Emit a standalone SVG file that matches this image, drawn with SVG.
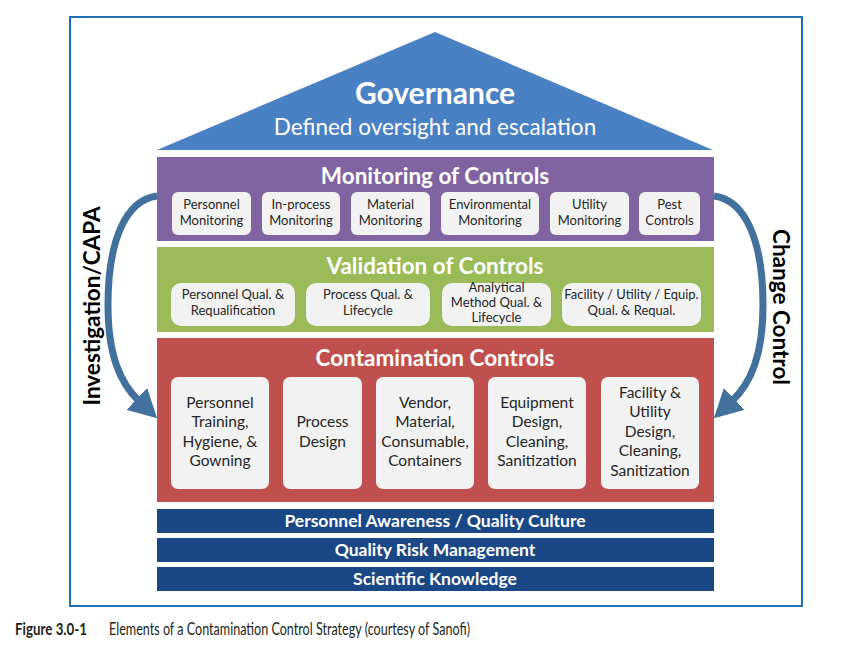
<svg xmlns="http://www.w3.org/2000/svg" width="852" height="646" viewBox="0 0 852 646">
<style>
.t{font-family:Lato,"Open Sans","Liberation Sans",sans-serif;text-anchor:middle}
.hw{fill:#fff;font-weight:bold}
.box{fill:#f2f2f2}
.bt{fill:#262626;font-size:13px}
.ct{fill:#262626;font-size:15.5px}
.bar{fill:#1a4785}
.bartxt{font-size:17.5px}
.side{fill:#000;font-weight:bold;font-size:22.5px}
.arr{fill:none;stroke:#41719c;stroke-width:7}
</style>
<defs>
<marker id="ah" markerUnits="userSpaceOnUse" markerWidth="28" markerHeight="30" viewBox="0 0 28 30" refX="3" refY="15" orient="auto">
<path d="M0,0 L28,15 L0,30 Z" fill="#41719c"/>
</marker>
</defs>
<rect width="852" height="646" fill="#fff"/>
<rect x="70" y="17" width="732" height="589" fill="none" stroke="#1f6fb2" stroke-width="2"/>

<g id="governance">
<polygon points="435,32 713,150 157,150" fill="#4a80c4"/>
<text class="t hw" x="435" y="104" font-size="30">Governance</text>
<text class="t" x="435" y="135" font-size="22.5" fill="#fff">Defined oversight and escalation</text>
</g>

<g id="monitoring">
<rect x="157" y="157" width="557" height="84" fill="#8064a2"/>
<text class="t hw" x="435" y="184" font-size="22.5">Monitoring of Controls</text>
<rect class="box" x="172" y="192" width="79" height="43" rx="6"/>
<text class="t bt" x="211.5" y="209">Personnel</text><text class="t bt" x="211.5" y="225">Monitoring</text>
<rect class="box" x="262" y="192" width="78" height="43" rx="6"/>
<text class="t bt" x="301" y="209">In-process</text><text class="t bt" x="301" y="225">Monitoring</text>
<rect class="box" x="351" y="192" width="79" height="43" rx="6"/>
<text class="t bt" x="390.5" y="209">Material</text><text class="t bt" x="390.5" y="225">Monitoring</text>
<rect class="box" x="441" y="192" width="98" height="43" rx="6"/>
<text class="t bt" x="490" y="209">Environmental</text><text class="t bt" x="490" y="225">Monitoring</text>
<rect class="box" x="550" y="192" width="79" height="43" rx="6"/>
<text class="t bt" x="589.5" y="209">Utility</text><text class="t bt" x="589.5" y="225">Monitoring</text>
<rect class="box" x="639" y="192" width="61" height="43" rx="6"/>
<text class="t bt" x="669.5" y="209">Pest</text><text class="t bt" x="669.5" y="225">Controls</text>
</g>

<g id="validation">
<rect x="157" y="247" width="557" height="85" fill="#9bbb59"/>
<text class="t hw" x="435" y="274" font-size="22.5">Validation of Controls</text>
<rect class="box" x="171" y="283" width="124" height="43" rx="10"/>
<text class="t bt" x="233" y="299">Personnel Qual. &amp;</text><text class="t bt" x="233" y="315">Requalification</text>
<rect class="box" x="306" y="283" width="124" height="43" rx="10"/>
<text class="t bt" x="368" y="299">Process Qual. &amp;</text><text class="t bt" x="368" y="315">Lifecycle</text>
<rect class="box" x="442" y="283" width="109" height="43" rx="10"/>
<text class="t bt" x="496.5" y="292">Analytical</text><text class="t bt" x="496.5" y="307">Method Qual. &amp;</text><text class="t bt" x="496.5" y="322">Lifecycle</text>
<rect class="box" x="562" y="283" width="139" height="43" rx="10"/>
<text class="t bt" x="631.5" y="299">Facility / Utility / Equip.</text><text class="t bt" x="631.5" y="315">Qual. &amp; Requal.</text>
</g>

<g id="contamination">
<rect x="157" y="338" width="557" height="164" fill="#c0504d"/>
<text class="t hw" x="435" y="366" font-size="22.5">Contamination Controls</text>
<rect class="box" x="171" y="377" width="98" height="112" rx="7"/>
<text class="t ct" x="220" y="408">Personnel</text><text class="t ct" x="220" y="427">Training,</text><text class="t ct" x="220" y="447">Hygiene, &amp;</text><text class="t ct" x="220" y="466">Gowning</text>
<rect class="box" x="283" y="377" width="79" height="112" rx="7"/>
<text class="t ct" x="322.5" y="427">Process</text><text class="t ct" x="322.5" y="447">Design</text>
<rect class="box" x="376" y="377" width="98" height="112" rx="7"/>
<text class="t ct" x="425" y="408">Vendor,</text><text class="t ct" x="425" y="427">Material,</text><text class="t ct" x="425" y="447">Consumable,</text><text class="t ct" x="425" y="466">Containers</text>
<rect class="box" x="488" y="377" width="98" height="112" rx="7"/>
<text class="t ct" x="537" y="408">Equipment</text><text class="t ct" x="537" y="427">Design,</text><text class="t ct" x="537" y="447">Cleaning,</text><text class="t ct" x="537" y="466">Sanitization</text>
<rect class="box" x="601" y="377" width="98" height="112" rx="7"/>
<text class="t ct" x="650" y="398">Facility &amp;</text><text class="t ct" x="650" y="417">Utility</text><text class="t ct" x="650" y="437">Design,</text><text class="t ct" x="650" y="456">Cleaning,</text><text class="t ct" x="650" y="476">Sanitization</text>
</g>

<g id="culture">
<rect class="bar" x="157" y="509" width="557" height="24"/>
<text class="t hw bartxt" x="435" y="527">Personnel Awareness / Quality Culture</text>
</g>
<g id="qrm">
<rect class="bar" x="157" y="538" width="557" height="24"/>
<text class="t hw bartxt" x="435" y="556">Quality Risk Management</text>
</g>
<g id="knowledge">
<rect class="bar" x="157" y="567" width="557" height="24"/>
<text class="t hw bartxt" x="435" y="585">Scientific Knowledge</text>
</g>

<g id="connectors">
<path class="arr" d="M157,196 C126,200 108,240 108,305 C108,355 120,383 139,401" marker-end="url(#ah)"/>
<path class="arr" d="M714,196 C745,200 763,240 763,305 C763,355 751,383 732,401" marker-end="url(#ah)"/>
</g>

<g id="investigation">
<text class="t side" transform="translate(100,306) rotate(-90)">Investigation/CAPA</text>
</g>
<g id="change">
<text class="t side" transform="translate(773,307) rotate(90)">Change Control</text>
</g>

<g id="caption">
<text x="15" y="635" font-family="Lato,'Liberation Sans',sans-serif" font-weight="bold" font-size="17" fill="#231f20" textLength="72" lengthAdjust="spacingAndGlyphs">Figure 3.0-1</text>
<text x="109" y="635" font-family="Lato,'Liberation Sans',sans-serif" font-size="17" fill="#231f20" textLength="361" lengthAdjust="spacingAndGlyphs">Elements of a Contamination Control Strategy (courtesy of Sanofi)</text>
</g>
</svg>
